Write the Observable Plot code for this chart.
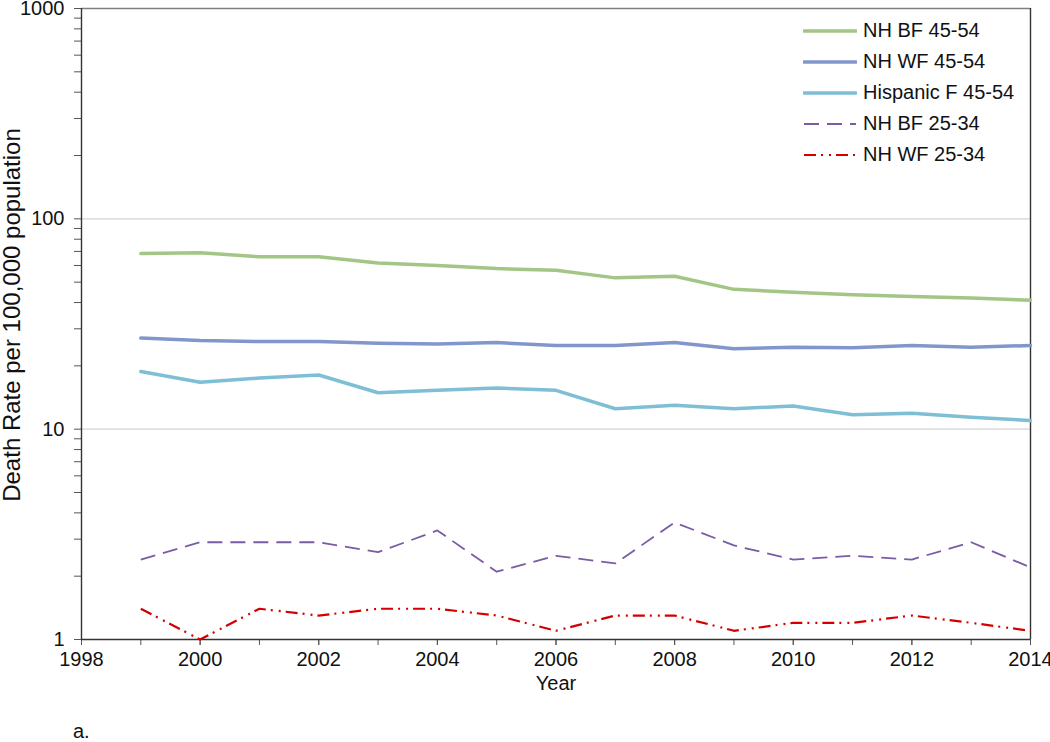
<!DOCTYPE html>
<html>
<head>
<meta charset="utf-8">
<script src="https://cdn.jsdelivr.net/npm/d3@7"></script>
<script src="https://cdn.jsdelivr.net/npm/@observablehq/plot@0.6"></script>
<style>
  html, body { margin: 0; padding: 0; background: #fff; }
  body { position: relative; width: 1050px; height: 742px; overflow: hidden; font-family: "Liberation Sans", Arial, sans-serif; }
  #chart svg text { font-size: 20px; font-family: "Liberation Sans", Arial, sans-serif; fill: #111; }
  #chart svg text.ylabel { font-size: 24px; }
  #legend { position: absolute; left: 803px; top: 15px; font-size: 20px; color: #111; }
  #legend .row { display: flex; align-items: center; height: 31px; }
  #legend svg { margin-right: 6px; }
  #caption { position: absolute; left: 73px; top: 721px; font-size: 20px; line-height: 20px; color: #111; }
</style>
</head>
<body>
<div id="chart"></div>
<div id="legend"></div>
<div id="caption">a.</div>
<script>
const years = [1999, 2000, 2001, 2002, 2003, 2004, 2005, 2006, 2007, 2008, 2009, 2010, 2011, 2012, 2013, 2014];
const nhbf4554 = [68.4, 69, 66, 66, 61.7, 60, 58, 57, 52.4, 53.3, 46.2, 44.8, 43.6, 42.7, 42, 41];
const nhwf4554 = [27.1, 26.4, 26.1, 26.1, 25.6, 25.4, 25.8, 25.0, 25.0, 25.8, 24.1, 24.5, 24.4, 25.0, 24.5, 25.0];
const hisp4554 = [18.8, 16.7, 17.5, 18.1, 14.9, 15.3, 15.7, 15.3, 12.5, 13.0, 12.5, 12.9, 11.7, 11.9, 11.4, 11.0];
const nhbf2534 = [2.4, 2.9, 2.9, 2.9, 2.6, 3.3, 2.1, 2.5, 2.3, 3.6, 2.8, 2.4, 2.5, 2.4, 2.9, 2.2];
const nhwf2534 = [1.4, 1.0, 1.4, 1.3, 1.4, 1.4, 1.3, 1.1, 1.3, 1.3, 1.1, 1.2, 1.2, 1.3, 1.2, 1.1];

const seriesNames = ["NH BF 45-54", "NH WF 45-54", "Hispanic F 45-54", "NH BF 25-34", "NH WF 25-34"];
const seriesValues = [nhbf4554, nhwf4554, hisp4554, nhbf2534, nhwf2534];
const seriesColors = ["#A3C585", "#8197CB", "#7EBFD5", "#7A5BA6", "#D40000"];
const seriesWidths = [3.5, 3.5, 3.5, 1.8, 2.2];
const seriesDash = [null, null, null, "15,8", "12,5,2,6,2,5"];

const xMajorTicks = [1998, 2000, 2002, 2004, 2006, 2008, 2010, 2012, 2014];
const xMinorTicks = d3.range(1998, 2015);
const yMajorTicks = [1, 10, 100, 1000];
const yMinorTicks = [2,3,4,5,6,7,8,9,20,30,40,50,60,70,80,90,200,300,400,500,600,700,800,900];
const yTitle = "Death Rate per 100,000 population";
const xTitle = "Year";

const series = seriesNames.map((name, i) => ({
  name,
  data: years.map((y, j) => ({year: y, value: seriesValues[i][j]}))
}));

const chart = Plot.plot({
  width: 1050,
  height: 742,
  marginLeft: 81,
  marginRight: 20,
  marginTop: 8,
  marginBottom: 103,
  style: {fontFamily: "Liberation Sans, Arial, sans-serif", fontSize: "20px", color: "#111", background: "#fff", overflow: "visible"},
  x: {domain: [1998, 2014]},
  y: {type: "log", domain: [1, 1000]},
  marks: [
    Plot.ruleY([10, 100], {stroke: "#d4d4d4", strokeWidth: 1.2}),
    Plot.ruleY([1000], {stroke: "#808080", strokeWidth: 1.6}),
    Plot.ruleX([2014], {stroke: "#333", strokeWidth: 1.4}),
    Plot.axisY({ticks: yMinorTicks, tickSize: 7, tickFormat: () => "", stroke: "#555", label: null}),
    Plot.axisY({ticks: yMajorTicks, tickSize: 7, tickPadding: 10, tickFormat: d => String(d), stroke: "#555", label: null}),
    Plot.text([yTitle], {frameAnchor: "left", textAnchor: "middle", rotate: -90, dx: -69, dy: -9, text: d => d}),
    Plot.axisX({ticks: xMinorTicks, tickSize: 6, tickFormat: () => "", stroke: "#555", label: null}),
    Plot.axisX({ticks: xMajorTicks, tickSize: 6, tickPadding: 6, tickFormat: d => String(d), stroke: "#555",
      label: xTitle, labelAnchor: "center", labelArrow: "none", labelOffset: 50}),
    Plot.ruleX([1998], {stroke: "#333", strokeWidth: 1.4}),
    Plot.ruleY([1], {stroke: "#333", strokeWidth: 1.4}),
    ...series.map((s, i) => Plot.line(s.data, {
      x: "year", y: "value",
      stroke: seriesColors[i], strokeWidth: seriesWidths[i],
      strokeDasharray: seriesDash[i] || undefined,
      strokeLinejoin: "round", strokeLinecap: seriesDash[i] ? "butt" : "round"
    }))
  ]
});
document.getElementById("chart").appendChild(chart);
// tag the y title text so it can be sized like the reference
chart.querySelectorAll("text").forEach(t => { if (t.textContent === yTitle) t.classList.add("ylabel"); });

const legend = document.getElementById("legend");
seriesNames.forEach((name, i) => {
  const row = document.createElement("div");
  row.className = "row";
  const ns = "http://www.w3.org/2000/svg";
  const svg = document.createElementNS(ns, "svg");
  svg.setAttribute("width", 54);
  svg.setAttribute("height", 10);
  const ln = document.createElementNS(ns, "line");
  ln.setAttribute("x1", 1); ln.setAttribute("x2", 53);
  ln.setAttribute("y1", 5); ln.setAttribute("y2", 5);
  ln.setAttribute("stroke", seriesColors[i]);
  ln.setAttribute("stroke-width", seriesWidths[i]);
  if (seriesDash[i]) ln.setAttribute("stroke-dasharray", seriesDash[i]);
  else ln.setAttribute("stroke-linecap", "round");
  svg.appendChild(ln);
  const span = document.createElement("span");
  span.textContent = name;
  row.appendChild(svg);
  row.appendChild(span);
  legend.appendChild(row);
});
</script>
</body>
</html>
